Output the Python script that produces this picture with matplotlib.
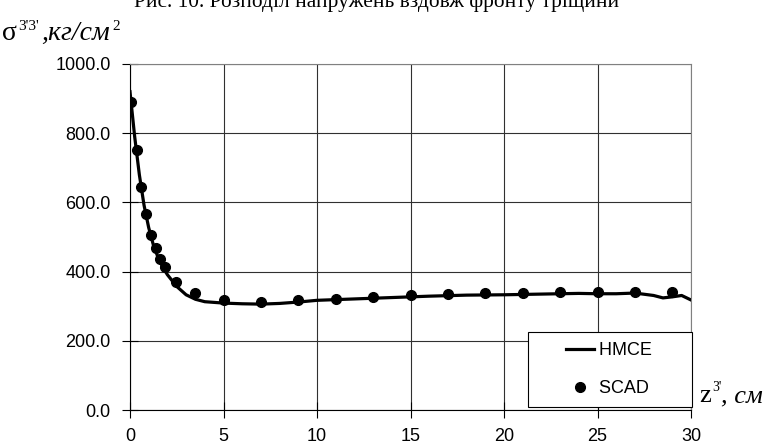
import matplotlib
matplotlib.use("Agg")
import matplotlib.pyplot as plt
from matplotlib.legend_handler import HandlerLine2D

# HMCE curve
line_x = [0, 0.25, 0.5, 0.75, 1, 1.25, 1.5, 1.75, 2, 2.5, 3, 3.5, 4, 5, 6, 7, 8, 9, 10,
          12, 14, 16, 18, 20, 22, 24, 25, 26, 27, 28, 28.5, 29, 29.5, 30]
line_y = [920, 790, 680, 592, 527, 477, 441, 413, 391, 357, 333, 320, 313, 309, 307, 306, 308, 312, 317,
          321, 325, 329, 332, 333, 335, 337, 336, 336, 338, 331, 324, 327, 331, 318]

# SCAD points
pts_x = [0.08, 0.36, 0.58, 0.86, 1.11, 1.38, 1.61, 1.86, 2.48, 3.48, 5, 7, 9, 11, 13, 15, 17, 19, 21, 23, 25, 27, 29]
pts_y = [889, 752, 645, 567, 506, 469, 437, 412, 371, 339, 318, 312, 318, 320, 328, 331, 335, 338, 338, 340, 340, 340, 340]

W, H = 767, 448
fig = plt.figure(figsize=(W/100, H/100), dpi=100)
ax = fig.add_axes([130/W, 1-410/H, (691-130)/W, (410-64)/H])

def put(x, y, s, **kw):
    # text placed by pixel position from top-left
    fig.text(x/W, 1-y/H, s, ha='left', va='baseline', family='Liberation Serif', **kw)

ax.plot(line_x, line_y, color='black', lw=2.3, label='HMCE', zorder=3)
ax.plot(pts_x, pts_y, 'o', color='black', ms=7, label='SCAD', zorder=4)

ax.set_xlim(0, 30)
ax.set_ylim(0, 1000)
ax.set_xticks(range(0, 31, 5))
ax.set_yticks(range(0, 1001, 200))
ax.set_yticklabels(['%.1f' % v for v in range(0, 1001, 200)])
ax.grid(True, color='#303030', lw=0.8)
ax.tick_params(direction='inout', length=12, width=0.8, labelsize=13)
ax.tick_params(axis='y', pad=8)
ax.tick_params(axis='x', pad=7)
for lab in ax.get_xticklabels() + ax.get_yticklabels():
    lab.set_family('Liberation Sans')
for s in ['top', 'right']:
    ax.spines[s].set_color('#808080')

hm = {ax.lines[0]: HandlerLine2D(xpad=1.55), ax.lines[1]: HandlerLine2D(xpad=1.55)}
leg = ax.legend(['HMCE      ', 'SCAD      '], loc='lower right', frameon=True, fancybox=False,
                edgecolor='black', framealpha=1,
                prop={'family': 'Liberation Sans', 'size': 13}, borderaxespad=0,
                handlelength=3.1, handletextpad=0.28, labelspacing=1.17, borderpad=0.55,
                bbox_to_anchor=(1.002, 0.009), handler_map=hm)
leg.get_frame().set_linewidth(0.8)

fig.text(377/W, 1-6.5/H, 'Рис. 10. Розподіл напружень вздовж фронту тріщини',
         family='Liberation Serif', fontsize=15.4, ha='center', va='baseline')

# y axis title
put(2, 40, 'σ', fontsize=20)
put(18, 30, "3'3'", fontsize=11)
put(41, 40, ',кг/см', fontsize=20, style='italic')
put(112, 30, '2', fontsize=11)

# x axis title
put(699, 402, 'z', fontsize=19)
put(712, 391, "3'", fontsize=10)
put(721, 402, ', см', fontsize=19, style='italic')

fig.savefig('out.png', dpi=100)
